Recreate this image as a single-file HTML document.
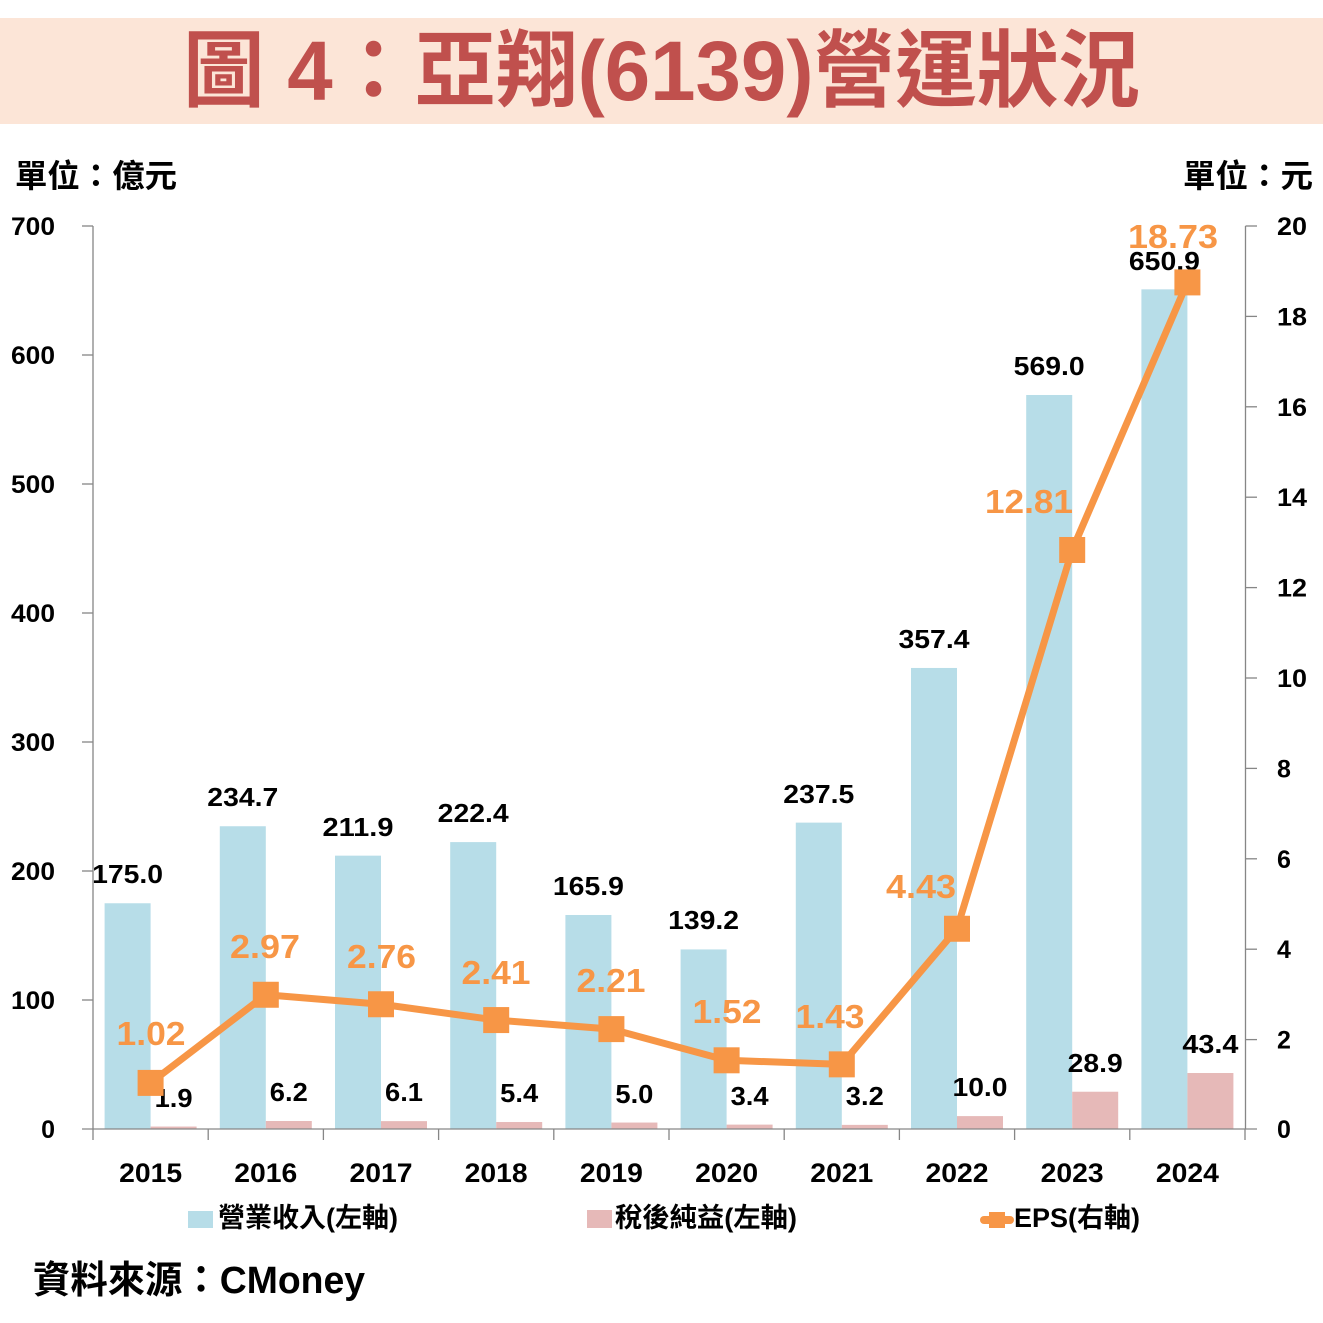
<!DOCTYPE html>
<html>
<head>
<meta charset="utf-8">
<style>
  html, body { margin: 0; padding: 0; background: #ffffff; }
  svg { display: block; }
  text { font-family: "Liberation Sans", "Noto Sans CJK TC", sans-serif; font-weight: bold; }
  .cjk { font-family: "Liberation Sans", "Noto Sans CJK TC", sans-serif; }
</style>
</head>
<body>
<svg width="1323" height="1323" viewBox="0 0 1323 1323" xmlns="http://www.w3.org/2000/svg">
  <rect x="0" y="0" width="1323" height="1323" fill="#ffffff"/>
  <!-- Title banner -->
  <rect x="0" y="18" width="1323" height="106" fill="#fce5d7"/>
  <text x="661.5" y="100" font-size="84" font-weight="900" fill="#c0504d" text-anchor="middle" textLength="957" lengthAdjust="spacingAndGlyphs">圖 4：亞翔(6139)營運狀況</text>

  <!-- Units -->
  <text x="15" y="187" font-size="32" fill="#000" textLength="162" lengthAdjust="spacingAndGlyphs">單位：億元</text>
  <text x="1313" y="187" font-size="32" fill="#000" text-anchor="end" textLength="130" lengthAdjust="spacingAndGlyphs">單位：元</text>

  <!-- Bars: revenue (blue) -->
  <g fill="#b7dde8">
    <rect x="104.6" y="903.25" width="46" height="225.75"/>
    <rect x="219.8" y="826.24" width="46" height="302.76"/>
    <rect x="335" y="855.65" width="46" height="273.35"/>
    <rect x="450.2" y="842.10" width="46" height="286.90"/>
    <rect x="565.4" y="914.99" width="46" height="214.01"/>
    <rect x="680.6" y="949.43" width="46" height="179.57"/>
    <rect x="795.8" y="822.62" width="46" height="306.38"/>
    <rect x="911" y="667.95" width="46" height="461.05"/>
    <rect x="1026.2" y="394.99" width="46" height="734.01"/>
    <rect x="1141.4" y="289.34" width="46" height="839.66"/>
  </g>
  <!-- Bars: net income (pink) -->
  <g fill="#e6b9b8">
    <rect x="150.6" y="1126.55" width="46" height="2.45"/>
    <rect x="265.8" y="1121.0" width="46" height="8.0"/>
    <rect x="381" y="1121.13" width="46" height="7.87"/>
    <rect x="496.2" y="1122.03" width="46" height="6.97"/>
    <rect x="611.4" y="1122.55" width="46" height="6.45"/>
    <rect x="726.6" y="1124.61" width="46" height="4.39"/>
    <rect x="841.8" y="1124.87" width="46" height="4.13"/>
    <rect x="957" y="1116.1" width="46" height="12.9"/>
    <rect x="1072.2" y="1091.72" width="46" height="37.28"/>
    <rect x="1187.4" y="1073.01" width="46" height="55.99"/>
  </g>

  <!-- Axes -->
  <g stroke="#868686" stroke-width="1.3" fill="none">
    <line x1="93" y1="226" x2="93" y2="1129"/>
    <line x1="1245.5" y1="226" x2="1245.5" y2="1129"/>
    <line x1="82" y1="1129" x2="1257" y2="1129"/>
    <!-- left ticks -->
    <line x1="82" y1="226" x2="93" y2="226"/>
    <line x1="82" y1="355" x2="93" y2="355"/>
    <line x1="82" y1="484" x2="93" y2="484"/>
    <line x1="82" y1="613" x2="93" y2="613"/>
    <line x1="82" y1="742" x2="93" y2="742"/>
    <line x1="82" y1="871" x2="93" y2="871"/>
    <line x1="82" y1="1000" x2="93" y2="1000"/>
    <!-- right ticks -->
    <line x1="1245.5" y1="226" x2="1257" y2="226"/>
    <line x1="1245.5" y1="316.4" x2="1257" y2="316.4"/>
    <line x1="1245.5" y1="406.8" x2="1257" y2="406.8"/>
    <line x1="1245.5" y1="497.2" x2="1257" y2="497.2"/>
    <line x1="1245.5" y1="587.6" x2="1257" y2="587.6"/>
    <line x1="1245.5" y1="678" x2="1257" y2="678"/>
    <line x1="1245.5" y1="768.4" x2="1257" y2="768.4"/>
    <line x1="1245.5" y1="858.8" x2="1257" y2="858.8"/>
    <line x1="1245.5" y1="949.2" x2="1257" y2="949.2"/>
    <line x1="1245.5" y1="1039.6" x2="1257" y2="1039.6"/>
    <!-- category ticks -->
    <line x1="93" y1="1129" x2="93" y2="1140"/>
    <line x1="208.2" y1="1129" x2="208.2" y2="1140"/>
    <line x1="323.4" y1="1129" x2="323.4" y2="1140"/>
    <line x1="438.6" y1="1129" x2="438.6" y2="1140"/>
    <line x1="553.8" y1="1129" x2="553.8" y2="1140"/>
    <line x1="669" y1="1129" x2="669" y2="1140"/>
    <line x1="784.2" y1="1129" x2="784.2" y2="1140"/>
    <line x1="899.4" y1="1129" x2="899.4" y2="1140"/>
    <line x1="1014.6" y1="1129" x2="1014.6" y2="1140"/>
    <line x1="1129.8" y1="1129" x2="1129.8" y2="1140"/>
    <line x1="1245" y1="1129" x2="1245" y2="1140"/>
  </g>

  <!-- Left tick labels -->
  <g font-size="25" fill="#000" text-anchor="end">
    <text x="55" y="235" textLength="44" lengthAdjust="spacingAndGlyphs">700</text>
    <text x="55" y="364" textLength="44" lengthAdjust="spacingAndGlyphs">600</text>
    <text x="55" y="493" textLength="44" lengthAdjust="spacingAndGlyphs">500</text>
    <text x="55" y="622" textLength="44" lengthAdjust="spacingAndGlyphs">400</text>
    <text x="55" y="751" textLength="44" lengthAdjust="spacingAndGlyphs">300</text>
    <text x="55" y="880" textLength="44" lengthAdjust="spacingAndGlyphs">200</text>
    <text x="55" y="1009" textLength="44" lengthAdjust="spacingAndGlyphs">100</text>
    <text x="55" y="1138">0</text>
  </g>
  <!-- Right tick labels -->
  <g font-size="25" fill="#000">
    <text x="1277" y="235" textLength="30" lengthAdjust="spacingAndGlyphs">20</text>
    <text x="1277" y="325.4" textLength="30" lengthAdjust="spacingAndGlyphs">18</text>
    <text x="1277" y="415.8" textLength="30" lengthAdjust="spacingAndGlyphs">16</text>
    <text x="1277" y="506.2" textLength="30" lengthAdjust="spacingAndGlyphs">14</text>
    <text x="1277" y="596.6" textLength="30" lengthAdjust="spacingAndGlyphs">12</text>
    <text x="1277" y="687" textLength="30" lengthAdjust="spacingAndGlyphs">10</text>
    <text x="1277" y="777.4">8</text>
    <text x="1277" y="867.8">6</text>
    <text x="1277" y="958.2">4</text>
    <text x="1277" y="1048.6">2</text>
    <text x="1277" y="1138">0</text>
  </g>

  <!-- Year labels -->
  <g font-size="27" fill="#000" text-anchor="middle">
    <text x="150.6" y="1182" textLength="63" lengthAdjust="spacingAndGlyphs">2015</text>
    <text x="265.8" y="1182" textLength="63" lengthAdjust="spacingAndGlyphs">2016</text>
    <text x="381" y="1182" textLength="63" lengthAdjust="spacingAndGlyphs">2017</text>
    <text x="496.2" y="1182" textLength="63" lengthAdjust="spacingAndGlyphs">2018</text>
    <text x="611.4" y="1182" textLength="63" lengthAdjust="spacingAndGlyphs">2019</text>
    <text x="726.6" y="1182" textLength="63" lengthAdjust="spacingAndGlyphs">2020</text>
    <text x="841.8" y="1182" textLength="63" lengthAdjust="spacingAndGlyphs">2021</text>
    <text x="957" y="1182" textLength="63" lengthAdjust="spacingAndGlyphs">2022</text>
    <text x="1072.2" y="1182" textLength="63" lengthAdjust="spacingAndGlyphs">2023</text>
    <text x="1187.4" y="1182" textLength="63" lengthAdjust="spacingAndGlyphs">2024</text>
  </g>

  <!-- Revenue labels -->
  <g font-size="26" fill="#000" text-anchor="middle">
    <text x="127.6" y="883" textLength="71" lengthAdjust="spacingAndGlyphs">175.0</text>
    <text x="242.8" y="806" textLength="71" lengthAdjust="spacingAndGlyphs">234.7</text>
    <text x="358" y="836" textLength="71" lengthAdjust="spacingAndGlyphs">211.9</text>
    <text x="473.2" y="822" textLength="71" lengthAdjust="spacingAndGlyphs">222.4</text>
    <text x="588.4" y="895" textLength="71" lengthAdjust="spacingAndGlyphs">165.9</text>
    <text x="703.6" y="929" textLength="71" lengthAdjust="spacingAndGlyphs">139.2</text>
    <text x="818.8" y="803" textLength="71" lengthAdjust="spacingAndGlyphs">237.5</text>
    <text x="934" y="648" textLength="71" lengthAdjust="spacingAndGlyphs">357.4</text>
    <text x="1049.2" y="375" textLength="71" lengthAdjust="spacingAndGlyphs">569.0</text>
    <text x="1164.4" y="270" textLength="71" lengthAdjust="spacingAndGlyphs">650.9</text>
  </g>
  <!-- Net income labels -->
  <g font-size="26" fill="#000" text-anchor="middle">
    <text x="173.6" y="1107" textLength="38" lengthAdjust="spacingAndGlyphs">1.9</text>
    <text x="288.8" y="1101" textLength="38" lengthAdjust="spacingAndGlyphs">6.2</text>
    <text x="404" y="1101" textLength="38" lengthAdjust="spacingAndGlyphs">6.1</text>
    <text x="519.2" y="1102" textLength="38" lengthAdjust="spacingAndGlyphs">5.4</text>
    <text x="634.4" y="1103" textLength="38" lengthAdjust="spacingAndGlyphs">5.0</text>
    <text x="749.6" y="1105" textLength="38" lengthAdjust="spacingAndGlyphs">3.4</text>
    <text x="864.8" y="1105" textLength="38" lengthAdjust="spacingAndGlyphs">3.2</text>
    <text x="980" y="1096" textLength="55" lengthAdjust="spacingAndGlyphs">10.0</text>
    <text x="1095.2" y="1072" textLength="55" lengthAdjust="spacingAndGlyphs">28.9</text>
    <text x="1210.4" y="1053" textLength="56" lengthAdjust="spacingAndGlyphs">43.4</text>
  </g>

  <!-- EPS line -->
  <polyline fill="none" stroke="#f79646" stroke-width="7" stroke-linejoin="round"
    points="150.6,1082.9 265.8,994.76 381,1004.25 496.2,1020.07 611.4,1029.11 726.6,1060.30 841.8,1064.36 957,928.76 1072.2,549.99 1187.4,282.40"/>
  <g fill="#f79646">
    <rect x="137.6" y="1069.9" width="26" height="26"/>
    <rect x="252.8" y="981.76" width="26" height="26"/>
    <rect x="368" y="991.25" width="26" height="26"/>
    <rect x="483.2" y="1007.07" width="26" height="26"/>
    <rect x="598.4" y="1016.11" width="26" height="26"/>
    <rect x="713.6" y="1047.30" width="26" height="26"/>
    <rect x="828.8" y="1051.36" width="26" height="26"/>
    <rect x="944" y="915.76" width="26" height="26"/>
    <rect x="1059.2" y="536.99" width="26" height="26"/>
    <rect x="1174.4" y="269.40" width="26" height="26"/>
  </g>
  <!-- EPS labels -->
  <g font-size="33" fill="#f79646" text-anchor="middle">
    <text x="151" y="1045" textLength="69" lengthAdjust="spacingAndGlyphs">1.02</text>
    <text x="265" y="958" textLength="70" lengthAdjust="spacingAndGlyphs">2.97</text>
    <text x="381.5" y="968" textLength="69" lengthAdjust="spacingAndGlyphs">2.76</text>
    <text x="496" y="984" textLength="69" lengthAdjust="spacingAndGlyphs">2.41</text>
    <text x="611" y="992" textLength="69" lengthAdjust="spacingAndGlyphs">2.21</text>
    <text x="727" y="1023" textLength="69" lengthAdjust="spacingAndGlyphs">1.52</text>
    <text x="830" y="1028" textLength="69" lengthAdjust="spacingAndGlyphs">1.43</text>
    <text x="921" y="898" textLength="70" lengthAdjust="spacingAndGlyphs">4.43</text>
    <text x="1029" y="513" textLength="88" lengthAdjust="spacingAndGlyphs">12.81</text>
    <text x="1173" y="248" textLength="90" lengthAdjust="spacingAndGlyphs">18.73</text>
  </g>

  <!-- Legend -->
  <rect x="188" y="1211" width="25" height="17" fill="#b7dde8"/>
  <text x="218" y="1227" font-size="27" fill="#000" textLength="180" lengthAdjust="spacingAndGlyphs">營業收入(左軸)</text>
  <rect x="587" y="1210" width="25" height="18" fill="#e6b9b8"/>
  <text x="615" y="1227" font-size="27" fill="#000" textLength="182" lengthAdjust="spacingAndGlyphs">稅後純益(左軸)</text>
  <line x1="984" y1="1220" x2="1010" y2="1220" stroke="#f79646" stroke-width="8" stroke-linecap="round"/>
  <rect x="989" y="1212" width="16" height="16" fill="#f79646"/>
  <text x="1014" y="1227" font-size="27" fill="#000" textLength="126" lengthAdjust="spacingAndGlyphs">EPS(右軸)</text>

  <!-- Source -->
  <text x="33" y="1293" font-size="38" fill="#000" textLength="332" lengthAdjust="spacingAndGlyphs">資料來源：CMoney</text>
</svg>
</body>
</html>
